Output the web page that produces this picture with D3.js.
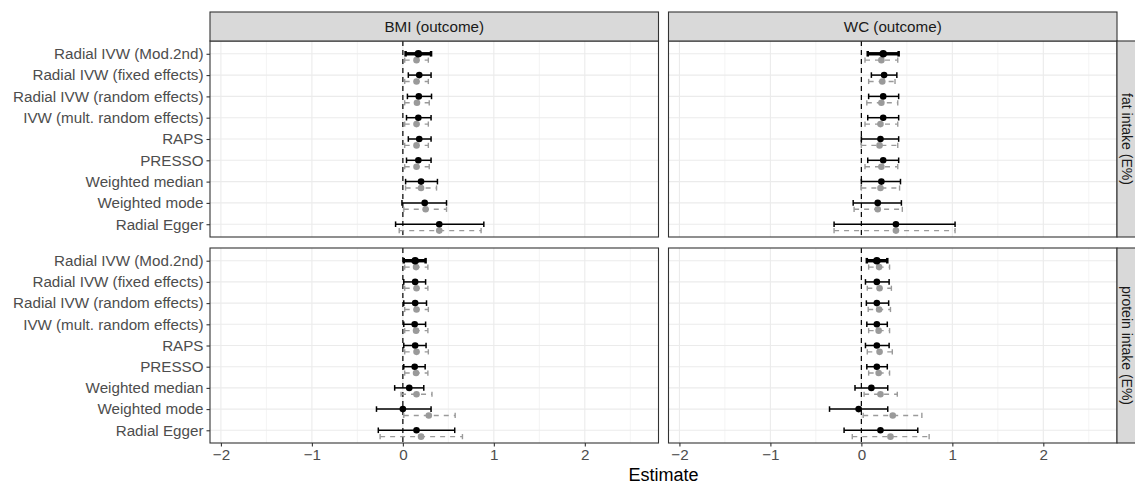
<!DOCTYPE html>
<html>
<head>
<meta charset="utf-8">
<script src="https://cdn.jsdelivr.net/npm/d3@7"></script>
<style>
  body { margin: 0; background: #fff; }
  svg { display: block; font-family: "Liberation Sans", Arial, sans-serif; }
</style>
</head>
<body>
<div id="chart"></div>
<script>
// categories (top to bottom)
const methods = [
  "Radial IVW (Mod.2nd)", "Radial IVW (fixed effects)", "Radial IVW (random effects)",
  "IVW (mult. random effects)", "RAPS", "PRESSO", "Weighted median", "Weighted mode", "Radial Egger"
];
const outcomes = ["BMI (outcome)", "WC (outcome)"];
const exposures = ["fat intake (E%)", "protein intake (E%)"];
const xTicks = [-2, -1, 0, 1, 2];
const xMinor = [-1.5, -0.5, 0.5, 1.5, 2.5];

// [estimate, lower, upper] per method — black series and grey series
const fatBmi = [[0.17, 0.03, 0.31], [0.18, 0.06, 0.31], [0.175, 0.05, 0.315], [0.17, 0.04, 0.31], [0.18, 0.06, 0.31],
  [0.17, 0.04, 0.31], [0.20, 0.03, 0.38], [0.24, -0.01, 0.48], [0.40, -0.08, 0.89]];
const fatBmiGrey = [[0.15, 0.02, 0.28], [0.15, 0.02, 0.28], [0.155, 0.02, 0.29], [0.15, 0.02, 0.28], [0.15, 0.02, 0.28],
  [0.15, 0.02, 0.29], [0.20, 0.03, 0.37], [0.25, 0.01, 0.48], [0.40, -0.04, 0.86]];
const fatWc = [[0.24, 0.07, 0.41], [0.25, 0.11, 0.39], [0.24, 0.08, 0.41], [0.24, 0.07, 0.41], [0.21, 0.00, 0.41],
  [0.24, 0.07, 0.41], [0.22, 0.00, 0.43], [0.18, -0.09, 0.44], [0.38, -0.30, 1.03]];
const fatWcGrey = [[0.22, 0.04, 0.40], [0.23, 0.08, 0.37], [0.22, 0.06, 0.40], [0.21, 0.04, 0.40], [0.20, 0.00, 0.40],
  [0.22, 0.04, 0.40], [0.21, 0.00, 0.42], [0.18, -0.08, 0.45], [0.38, -0.30, 1.03]];
const protBmi = [[0.135, 0.01, 0.25], [0.135, 0.01, 0.25], [0.135, 0.01, 0.26], [0.13, 0.01, 0.25], [0.135, 0.01, 0.255],
  [0.13, 0.01, 0.245], [0.07, -0.09, 0.23], [0.00, -0.29, 0.31], [0.15, -0.27, 0.57]];
const protBmiGrey = [[0.145, 0.02, 0.275], [0.15, 0.02, 0.275], [0.15, 0.02, 0.28], [0.145, 0.02, 0.275], [0.15, 0.02, 0.28],
  [0.145, 0.02, 0.275], [0.15, -0.02, 0.32], [0.285, 0.01, 0.575], [0.20, -0.25, 0.655]];
const protWc = [[0.17, 0.06, 0.285], [0.17, 0.045, 0.305], [0.17, 0.055, 0.30], [0.17, 0.06, 0.285], [0.17, 0.045, 0.305],
  [0.17, 0.06, 0.285], [0.11, -0.07, 0.29], [-0.03, -0.35, 0.29], [0.21, -0.19, 0.62]];
const protWcGrey = [[0.195, 0.08, 0.31], [0.20, 0.065, 0.33], [0.195, 0.075, 0.32], [0.19, 0.08, 0.31], [0.20, 0.065, 0.34],
  [0.19, 0.08, 0.31], [0.21, 0.03, 0.395], [0.345, 0.02, 0.665], [0.32, -0.10, 0.745]];

const panels = [
  { row: 0, col: 0, black: fatBmi, grey: fatBmiGrey },
  { row: 0, col: 1, black: fatWc, grey: fatWcGrey },
  { row: 1, col: 0, black: protBmi, grey: protBmiGrey },
  { row: 1, col: 1, black: protWc, grey: protWcGrey }
];

const W = 1135, H = 485;
const colX = [[210, 658.5], [668.5, 1117]];
const rowY = [[41, 237], [248, 443]];
const stripTop = 12, stripRight = 1147;
const fontSize = '15.2px';

const svg = d3.select('#chart').append('svg')
  .attr('width', W).attr('height', H);

const xDomain = [-2.12, 2.81];

panels.forEach(p => {
  const [x0, x1] = colX[p.col];
  const [y0, y1] = rowY[p.row];
  const x = d3.scaleLinear().domain(xDomain).range([x0, x1]);
  const y = d3.scalePoint().domain(methods).range([y0, y1]).padding(0.6);
  const off = y.step() * 0.3;
  const g = svg.append('g');

  // panel background + grid
  g.append('rect').attr('x', x0).attr('y', y0).attr('width', x1 - x0).attr('height', y1 - y0).attr('fill', '#fff');
  g.selectAll('.minor').data(xMinor).enter().append('line')
    .attr('x1', d => x(d)).attr('x2', d => x(d)).attr('y1', y0).attr('y2', y1)
    .attr('stroke', '#ebebeb').attr('stroke-width', 0.6);
  g.selectAll('.vmaj').data(xTicks).enter().append('line')
    .attr('x1', d => x(d)).attr('x2', d => x(d)).attr('y1', y0).attr('y2', y1)
    .attr('stroke', '#ebebeb').attr('stroke-width', 1.1);
  g.selectAll('.hmaj').data(methods).enter().append('line')
    .attr('x1', x0).attr('x2', x1).attr('y1', d => y(d)).attr('y2', d => y(d))
    .attr('stroke', '#ebebeb').attr('stroke-width', 1.1);

  // reference line at zero
  g.append('line').attr('x1', x(0)).attr('x2', x(0)).attr('y1', y0).attr('y2', y1)
    .attr('stroke', '#000').attr('stroke-width', 1.2).attr('stroke-dasharray', '5,4');

  // grey (dashed) estimates, shifted below
  const grey = p.grey.map((d, i) => ({ m: methods[i], est: d[0], lo: d[1], hi: d[2] }));
  const gg = g.append('g');
  gg.selectAll('.gbar').data(grey).enter().append('line')
    .attr('x1', d => x(d.lo)).attr('x2', d => x(d.hi))
    .attr('y1', d => y(d.m) + off).attr('y2', d => y(d.m) + off)
    .attr('stroke', '#9a9a9a').attr('stroke-width', 1.4).attr('stroke-dasharray', '5,5');
  gg.selectAll('.gcap').data(grey.flatMap(d => [{ m: d.m, v: d.lo }, { m: d.m, v: d.hi }])).enter().append('line')
    .attr('x1', d => x(d.v)).attr('x2', d => x(d.v))
    .attr('y1', d => y(d.m) + off - 2.6).attr('y2', d => y(d.m) + off + 2.6)
    .attr('stroke', '#9a9a9a').attr('stroke-width', 1.4);
  gg.selectAll('.gdot').data(grey).enter().append('circle')
    .attr('cx', d => x(d.est)).attr('cy', d => y(d.m) + off).attr('r', 3.3)
    .attr('fill', '#9a9a9a');

  // black estimates
  const black = p.black.map((d, i) => ({ m: methods[i], est: d[0], lo: d[1], hi: d[2], main: i === 0 }));
  const bg = g.append('g');
  bg.selectAll('.bbar').data(black).enter().append('line')
    .attr('x1', d => x(d.lo)).attr('x2', d => x(d.hi))
    .attr('y1', d => y(d.m)).attr('y2', d => y(d.m))
    .attr('stroke', '#000').attr('stroke-width', d => d.main ? 3.4 : 1.5);
  bg.selectAll('.bcap').data(black.flatMap(d => [{ m: d.m, v: d.lo, main: d.main }, { m: d.m, v: d.hi, main: d.main }])).enter().append('line')
    .attr('x1', d => x(d.v)).attr('x2', d => x(d.v))
    .attr('y1', d => y(d.m) - 2.8).attr('y2', d => y(d.m) + 2.8)
    .attr('stroke', '#000').attr('stroke-width', d => d.main ? 2.5 : 1.5);
  bg.selectAll('.bdot').data(black).enter().append('circle')
    .attr('cx', d => x(d.est)).attr('cy', d => y(d.m)).attr('r', d => d.main ? 3.8 : 3.3)
    .attr('fill', '#000');

  // panel border
  g.append('rect').attr('x', x0).attr('y', y0).attr('width', x1 - x0).attr('height', y1 - y0)
    .attr('fill', 'none').attr('stroke', '#333').attr('stroke-width', 1.1);

  // y axis on left column
  if (p.col === 0) {
    const ax = g.append('g').attr('transform', `translate(${x0},0)`)
      .call(d3.axisLeft(y).tickSize(3.5).tickPadding(3));
    ax.select('.domain').remove();
    ax.selectAll('line').attr('stroke', '#333').attr('stroke-width', 1.1);
    ax.selectAll('text').attr('fill', '#4d4d4d').style('font-size', fontSize);
  }
  // x axis on bottom row
  if (p.row === 1) {
    const ax = g.append('g').attr('transform', `translate(0,${y1})`)
      .call(d3.axisBottom(x).tickValues(xTicks).tickFormat(d3.format('d')).tickSize(3.5).tickPadding(3));
    ax.select('.domain').remove();
    ax.selectAll('line').attr('stroke', '#333').attr('stroke-width', 1.1);
    ax.selectAll('text').attr('fill', '#4d4d4d').style('font-size', fontSize);
  }
});

// top strips
outcomes.forEach((o, c) => {
  const [x0, x1] = colX[c];
  svg.append('rect').attr('x', x0).attr('y', stripTop).attr('width', x1 - x0).attr('height', rowY[0][0] - stripTop)
    .attr('fill', '#d9d9d9').attr('stroke', '#333').attr('stroke-width', 1.1);
  svg.append('text').attr('x', (x0 + x1) / 2).attr('y', (stripTop + rowY[0][0]) / 2)
    .attr('text-anchor', 'middle').attr('dominant-baseline', 'central')
    .attr('fill', '#1a1a1a').style('font-size', fontSize).text(o);
});

// right strips (page edge cuts the strip, keep text inside the visible part)
exposures.forEach((e, r) => {
  const [y0, y1] = rowY[r];
  const x0 = colX[1][1];
  svg.append('rect').attr('x', x0).attr('y', y0).attr('width', stripRight - x0).attr('height', y1 - y0)
    .attr('fill', '#d9d9d9').attr('stroke', '#333').attr('stroke-width', 1.1);
  svg.append('text')
    .attr('transform', `translate(${(x0 + W) / 2 + 0.5},${(y0 + y1) / 2}) rotate(90)`)
    .attr('text-anchor', 'middle').attr('dominant-baseline', 'central')
    .attr('fill', '#1a1a1a').style('font-size', '14px').text(e);
});

// x axis title
svg.append('text').attr('x', (colX[0][0] + colX[1][1]) / 2).attr('y', 481)
  .attr('text-anchor', 'middle').attr('fill', '#000').style('font-size', '18px').text('Estimate');
</script>
</body>
</html>
